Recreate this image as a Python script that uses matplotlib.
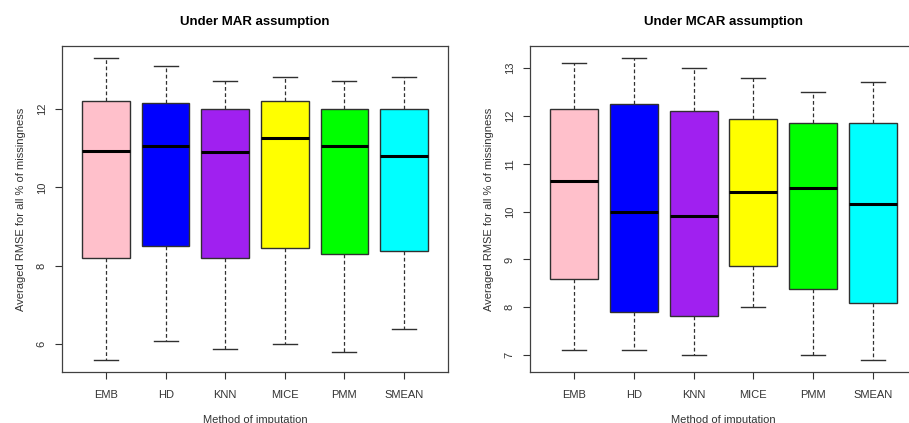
import matplotlib
matplotlib.use("Agg")
import matplotlib.pyplot as plt

plt.rcParams['font.family'] = ['Liberation Sans', 'DejaVu Sans']

methods = ['EMB', 'HD', 'KNN', 'MICE', 'PMM', 'SMEAN']
colors = ['#FFC0CB', '#0000FF', '#A020F0', '#FFFF00', '#00FF00', '#00FFFF']

# MAR panel
mar_lo  = [5.60, 6.08, 5.89, 6.00, 5.79, 6.38]
mar_q1  = [8.20, 8.50, 8.20, 8.45, 8.30, 8.39]
mar_med = [10.94, 11.05, 10.91, 11.27, 11.05, 10.81]
mar_q3  = [12.21, 12.15, 12.00, 12.21, 12.00, 12.00]
mar_hi  = [13.30, 13.11, 12.71, 12.81, 12.71, 12.81]

# MCAR panel
mcar_lo  = [7.10, 7.10, 7.00, 8.00, 7.00, 6.90]
mcar_q1  = [8.60, 7.90, 7.81, 8.86, 8.39, 8.10]
mcar_med = [10.65, 10.00, 9.90, 10.40, 10.50, 10.15]
mcar_q3  = [12.15, 12.24, 12.10, 11.94, 11.85, 11.85]
mcar_hi  = [13.11, 13.21, 13.00, 12.80, 12.51, 12.70]


def make_stats(lo, q1, med, q3, hi):
    out = []
    for i in range(len(methods)):
        out.append(dict(label=methods[i], whislo=lo[i], q1=q1[i], med=med[i],
                        q3=q3[i], whishi=hi[i], fliers=[]))
    return out


def draw_panel(ax, stats, title, yticks):
    bp = ax.bxp(stats, positions=range(1, 7), widths=0.8, patch_artist=True,
                showfliers=False,
                boxprops=dict(edgecolor='#303030', linewidth=1.0),
                medianprops=dict(color='black', linewidth=2.2),
                whiskerprops=dict(color='#303030', linewidth=0.9, linestyle=(0, (3, 2))),
                capprops=dict(color='#303030', linewidth=1.0),
                capwidths=0.4)
    for patch, c in zip(bp['boxes'], colors):
        patch.set_facecolor(c)
    lo = min(s['whislo'] for s in stats)
    hi = max(s['whishi'] for s in stats)
    pad = (hi - lo) * 0.04
    ax.set_ylim(lo - pad, hi + pad)
    ax.set_xlim(0.26, 6.74)
    ax.set_yticks(yticks)
    ax.set_yticklabels([str(t) for t in yticks], rotation=90, va='center')
    ax.set_xticks(range(1, 7))
    ax.set_xticklabels(methods)
    ax.tick_params(axis='both', labelsize=8, colors='#333333', length=5, width=0.8)
    ax.tick_params(axis='x', pad=8)
    ax.tick_params(axis='y', pad=6)
    for sp in ax.spines.values():
        sp.set_color('#404040')
        sp.set_linewidth(0.9)
    ax.set_title(title, fontsize=9.5, fontweight='bold', pad=15)
    ax.set_xlabel('Method of imputation', fontsize=8, color='#333333', labelpad=11)
    ax.set_ylabel('Averaged RMSE for all % of missingness', fontsize=8, color='#333333', labelpad=8)


fig = plt.figure(figsize=(9.09, 4.23), dpi=100)
ax1 = fig.add_axes([62 / 909, 51 / 423, 386 / 909, 326 / 423])
ax2 = fig.add_axes([530 / 909, 51 / 423, 387 / 909, 326 / 423])

draw_panel(ax1, make_stats(mar_lo, mar_q1, mar_med, mar_q3, mar_hi),
           'Under MAR assumption', [6, 8, 10, 12])
draw_panel(ax2, make_stats(mcar_lo, mcar_q1, mcar_med, mcar_q3, mcar_hi),
           'Under MCAR assumption', [7, 8, 9, 10, 11, 12, 13])

fig.savefig('out.png', dpi=100)
